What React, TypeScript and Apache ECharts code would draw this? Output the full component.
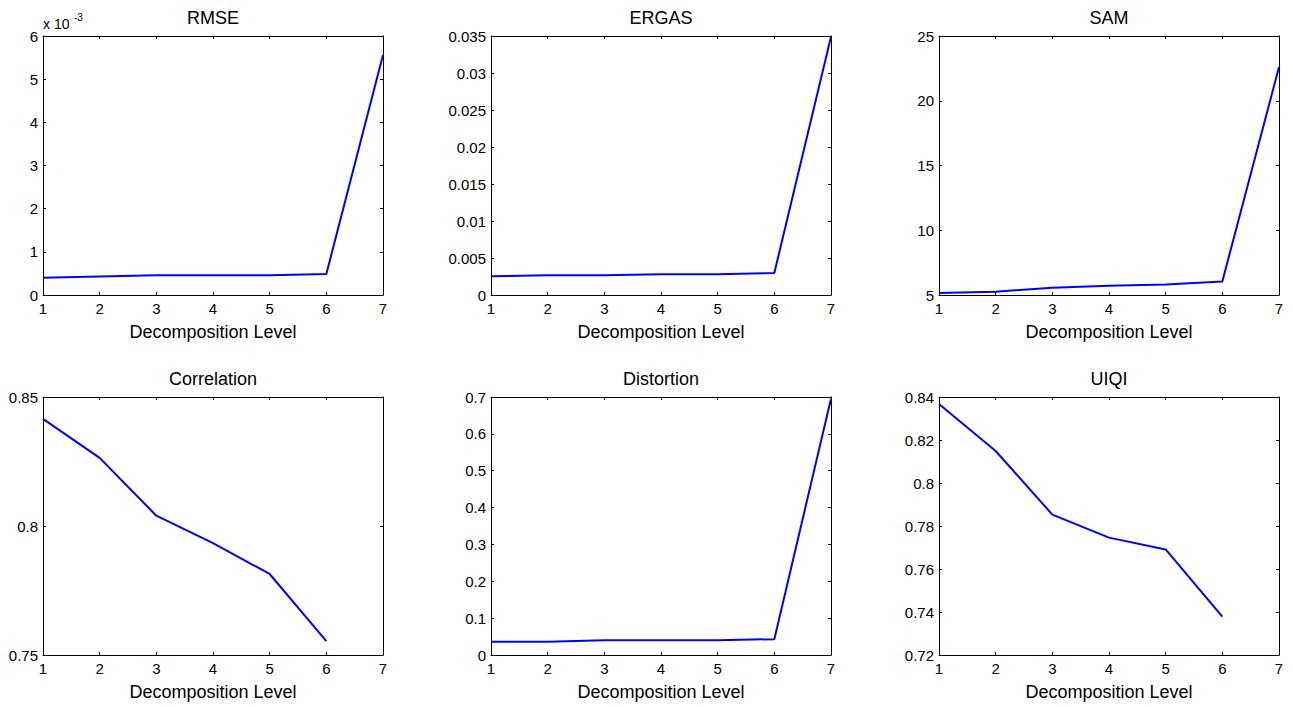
import React, { useEffect, useRef } from "react";
import * as echarts from "echarts";

const levels = [1, 2, 3, 4, 5, 6, 7];
const titles = ["RMSE", "ERGAS", "SAM", "Correlation", "Distortion", "UIQI"];
const rmse = [0.0004, 0.00043, 0.000455, 0.000455, 0.000455, 0.000487, 0.00556];
const ergas = [0.00253, 0.00266, 0.00266, 0.0028, 0.0028, 0.00298, 0.0349];
const sam = [5.15, 5.26, 5.56, 5.72, 5.82, 6.05, 22.6];
const correlation = [0.8415, 0.8264, 0.804, 0.7934, 0.7814, 0.7554];
const distortion = [0.036, 0.036, 0.04, 0.04, 0.04, 0.043, 0.695];
const uiqi = [0.8367, 0.8149, 0.7853, 0.7746, 0.7691, 0.7378];
const yMins = [0, 0, 5, 0.75, 0, 0.72];
const yMaxs = [0.006, 0.035, 25, 0.85, 0.7, 0.84];
const yIntervals = [0.001, 0.005, 5, 0.05, 0.1, 0.02];
const xAxisName = "Decomposition Level";

const FONT = "Liberation Sans, Arial, sans-serif";

export default function App() {
  const ref = useRef<HTMLDivElement>(null);
  useEffect(() => {
    document.body.style.margin = "0";
    const chart = echarts.init(ref.current!, null, { renderer: "svg" });
    const allData = [rmse, ergas, sam, correlation, distortion, uiqi];
    const lefts = [43, 491, 939];
    const tops = [36, 397];
    const W = 340;
    const H = 259;
    const grids: any[] = [];
    const xAxes: any[] = [];
    const yAxes: any[] = [];
    const series: any[] = [];
    const graphics: any[] = [];
    for (let i = 0; i < 6; i++) {
      const col = i % 3;
      const row = Math.floor(i / 3);
      grids.push({ left: lefts[col], top: tops[row], width: W, height: H - row, containLabel: false });
      const axisLine = { show: true, onZero: false, lineStyle: { color: "#000", width: 1 } };
      const tick = { show: true, inside: true, length: 3, lineStyle: { color: "#000" } };
      const xBase = { type: "value", gridIndex: i, min: 1, max: 7, interval: 1, splitLine: { show: false }, axisLine, axisTick: tick };
      xAxes.push({
        ...xBase,
        position: "bottom",
        name: xAxisName,
        nameLocation: "middle",
        nameGap: 28,
        nameTextStyle: { fontFamily: FONT, fontSize: 18, color: "#000" },
        axisLabel: { show: true, margin: 6, fontFamily: FONT, fontSize: 15, color: "#000" },
      });
      xAxes.push({ ...xBase, position: "top", axisLabel: { show: false } });
      const yBase = { type: "value", gridIndex: i, min: yMins[i], max: yMaxs[i], interval: yIntervals[i], splitLine: { show: false }, axisLine, axisTick: tick };
      const fmt = i === 0 ? (v: number) => String(Math.round(v * 1000)) : undefined;
      yAxes.push({
        ...yBase,
        position: "left",
        axisLabel: { show: true, margin: 5, fontFamily: FONT, fontSize: 15, color: "#000", formatter: fmt },
      });
      yAxes.push({ ...yBase, position: "right", axisLabel: { show: false } });
      const d = allData[i];
      series.push({
        type: "line",
        xAxisIndex: 2 * i,
        yAxisIndex: 2 * i,
        data: d.map((v, k) => [levels[k], v]),
        showSymbol: false,
        symbol: "none",
        lineStyle: { color: "#0000ff", width: 2 },
        itemStyle: { color: "#0000ff" },
      });
      graphics.push({
        type: "text",
        x: lefts[col] + W / 2,
        y: tops[row] - 18,
        style: { text: titles[i], fontFamily: FONT, fontSize: 18, fill: "#000", textAlign: "center", textVerticalAlign: "middle" },
      });
    }
    graphics.push({
      type: "text",
      x: 43,
      y: 24,
      style: { text: "x 10", fontFamily: FONT, fontSize: 14, fill: "#000", textAlign: "left", textVerticalAlign: "middle" },
    });
    graphics.push({
      type: "text",
      x: 74,
      y: 17,
      style: { text: "-3", fontFamily: FONT, fontSize: 10, fill: "#000", textAlign: "left", textVerticalAlign: "middle" },
    });
    chart.setOption({
      animation: false,
      backgroundColor: "#fff",
      grid: grids,
      xAxis: xAxes,
      yAxis: yAxes,
      series,
      graphic: graphics,
    });
    return () => chart.dispose();
  }, []);
  return <div ref={ref} style={{ width: 1293, height: 707 }} />;
}
